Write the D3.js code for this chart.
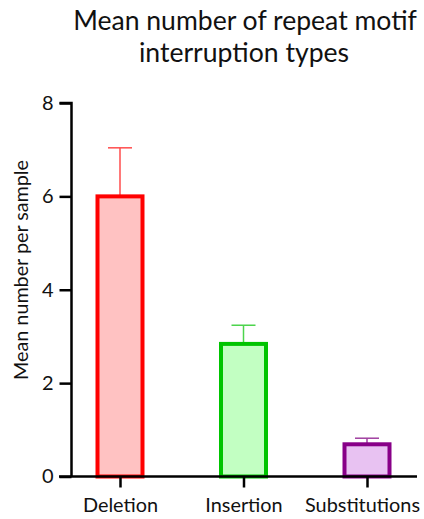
<!DOCTYPE html>
<html>
<head>
<meta charset="utf-8">
<script src="https://cdn.jsdelivr.net/npm/d3@7"></script>
<style>
  html, body { margin: 0; padding: 0; background: #fff; }
  svg { display: block; }
  text { font-family: Lato, "Open Sans", sans-serif; fill: #111; }
</style>
</head>
<body>
<script>
const categories = ["Deletion", "Insertion", "Substitutions"];
const means = [6.0, 2.84, 0.69];
const errorTops = [7.04, 3.24, 0.82];
const yTicks = [0, 2, 4, 6, 8];
const strokeColors = ["#ff0000", "#00c400", "#880088"];
const fillColors = ["#ffc2c2", "#c2ffc2", "#e8c2f2"];
const errColors = ["#ff4d4d", "#4dd44d", "#a040a0"];
const titleLines = ["Mean number of repeat motif", "interruption types"];
const yLabel = "Mean number per sample";

const W = 424, H = 519;
const svg = d3.select("body").append("svg").attr("width", W).attr("height", H);

const y = d3.scaleLinear().domain([0, 8]).range([476.5, 103]);
const x = d3.scalePoint().domain(categories).range([120, 367]);
const barW = 45;

function fitSize(textSel, target, start) {
  textSel.style("font-size", start + "px");
  const w = textSel.node().getComputedTextLength();
  const s = start * target / w;
  textSel.style("font-size", s + "px");
  return s;
}

// Title
const t1 = svg.append("text").attr("x", 245).attr("y", 30).attr("text-anchor", "middle").text(titleLines[0]);
const ts = fitSize(t1, 344, 25);
svg.append("text").attr("x", 244).attr("y", 62).attr("text-anchor", "middle")
  .style("font-size", ts + "px").text(titleLines[1]);

// Y label
const yl = svg.append("text").attr("transform", "translate(28,270) rotate(-90)")
  .attr("text-anchor", "middle").text(yLabel);
fitSize(yl, 220, 19);

// Bars
const g = svg.append("g");
categories.forEach((c, i) => {
  const cx = x(c);
  g.append("line").attr("x1", cx).attr("x2", cx).attr("y1", y(means[i])).attr("y2", y(errorTops[i]))
    .attr("stroke", errColors[i]).attr("stroke-width", 1.5);
  g.append("line").attr("x1", cx - 12).attr("x2", cx + 12).attr("y1", y(errorTops[i])).attr("y2", y(errorTops[i]))
    .attr("stroke", errColors[i]).attr("stroke-width", 1.5);
  g.append("rect").attr("x", cx - barW / 2).attr("width", barW)
    .attr("y", y(means[i])).attr("height", y(0) - y(means[i]))
    .attr("fill", fillColors[i]).attr("stroke", strokeColors[i]).attr("stroke-width", 4);
});

// Y axis
const yAxis = d3.axisLeft(y).tickValues(yTicks).tickFormat(d3.format("d")).tickSize(12).tickPadding(6);
const ya = svg.append("g").attr("transform", "translate(71.5,0)").call(yAxis);
ya.select(".domain").attr("stroke", "#000").attr("stroke-width", 2.5).attr("d", `M-12,${y(8)}H0V${y(0)}`);
ya.selectAll(".tick line").attr("stroke", "#000").attr("stroke-width", 2.5);
ya.selectAll(".tick text").style("font-size", "20px").style("font-family", "Lato, 'Open Sans', sans-serif").attr("fill", "#111");

// X axis
const xAxis = d3.axisBottom(x).tickSize(11).tickPadding(10);
const xa = svg.append("g").attr("transform", `translate(0,${y(0)})`).call(xAxis);
xa.select(".domain").attr("stroke", "#000").attr("stroke-width", 2.5).attr("d", "M59,0H417");
xa.selectAll(".tick line").attr("stroke", "#000").attr("stroke-width", 2.5);
const xt = xa.selectAll(".tick text").style("font-family", "Lato, 'Open Sans', sans-serif").attr("fill", "#111");
const subNode = xt.filter(d => d === "Substitutions");
const xs = fitSize(subNode, 115, 19);
xt.style("font-size", xs + "px");
subNode.attr("dx", -5);
</script>
</body>
</html>
